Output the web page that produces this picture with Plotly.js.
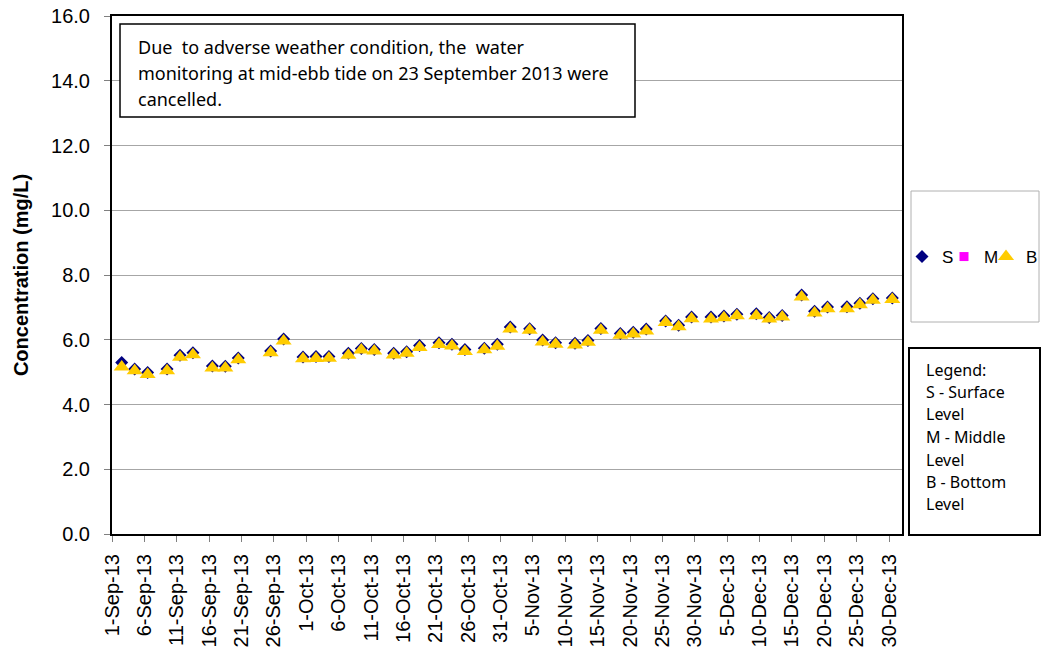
<!DOCTYPE html>
<html>
<head>
<meta charset="utf-8">
<script src="https://cdn.plot.ly/plotly-3.0.1.min.js"></script>
<style>
  html, body { margin: 0; padding: 0; background: #ffffff; }
  #chart { width: 1045px; height: 652px; }
</style>
</head>
<body>
<div id="chart"></div>
<script>
// ---- data ----
const sampleDates = [
  "2013-09-02","2013-09-04","2013-09-06","2013-09-09","2013-09-11","2013-09-13",
  "2013-09-16","2013-09-18","2013-09-20","2013-09-25","2013-09-27","2013-09-30",
  "2013-10-02","2013-10-04","2013-10-07","2013-10-09","2013-10-11","2013-10-14",
  "2013-10-16","2013-10-18","2013-10-21","2013-10-23","2013-10-25","2013-10-28",
  "2013-10-30","2013-11-01","2013-11-04","2013-11-06","2013-11-08","2013-11-11",
  "2013-11-13","2013-11-15","2013-11-18","2013-11-20","2013-11-22","2013-11-25",
  "2013-11-27","2013-11-29","2013-12-02","2013-12-04","2013-12-06","2013-12-09",
  "2013-12-11","2013-12-13","2013-12-16","2013-12-18","2013-12-20","2013-12-23",
  "2013-12-25","2013-12-27","2013-12-30"
];
const surface = [
  5.30,5.10,4.99,5.10,5.52,5.60,
  5.19,5.18,5.44,5.65,6.02,5.47,
  5.48,5.48,5.58,5.73,5.70,5.58,
  5.63,5.82,5.91,5.86,5.70,5.74,
  5.86,6.39,6.34,5.99,5.91,5.89,
  5.98,6.35,6.19,6.23,6.33,6.58,
  6.45,6.70,6.70,6.73,6.79,6.80,
  6.69,6.75,7.38,6.88,7.01,7.02,
  7.13,7.27,7.29
];
const middle = sampleDates.map(() => null); // no middle-level data shown
const bottom = [
  5.16,5.04,4.93,5.04,5.46,5.54,
  5.13,5.13,5.38,5.60,5.96,5.41,
  5.42,5.43,5.52,5.68,5.65,5.53,
  5.58,5.76,5.85,5.81,5.64,5.69,
  5.80,6.33,6.29,5.93,5.86,5.84,
  5.92,6.29,6.14,6.18,6.27,6.53,
  6.40,6.65,6.64,6.68,6.74,6.74,
  6.64,6.70,7.32,6.83,6.96,6.96,
  7.08,7.22,7.24
];
const tickDates = [
  "2013-09-01","2013-09-06","2013-09-11","2013-09-16","2013-09-21","2013-09-26",
  "2013-10-01","2013-10-06","2013-10-11","2013-10-16","2013-10-21","2013-10-26","2013-10-31",
  "2013-11-05","2013-11-10","2013-11-15","2013-11-20","2013-11-25","2013-11-30",
  "2013-12-05","2013-12-10","2013-12-15","2013-12-20","2013-12-25","2013-12-30"
];
const tickLabels = [
  "1-Sep-13","6-Sep-13","11-Sep-13","16-Sep-13","21-Sep-13","26-Sep-13",
  "1-Oct-13","6-Oct-13","11-Oct-13","16-Oct-13","21-Oct-13","26-Oct-13","31-Oct-13",
  "5-Nov-13","10-Nov-13","15-Nov-13","20-Nov-13","25-Nov-13","30-Nov-13",
  "5-Dec-13","10-Dec-13","15-Dec-13","20-Dec-13","25-Dec-13","30-Dec-13"
];
const noteLines = [
  "Due  to adverse weather condition, the  water",
  "monitoring at mid-ebb tide on 23 September 2013 were",
  "cancelled."
];
const legendNoteLines = [
  "Legend:", "S - Surface", "Level", "M - Middle", "Level", "B - Bottom", "Level"
];

// ---- layout helpers (pixel -> paper) ----
const W = 1045, H = 652;
const M = {l: 112, r: 143, t: 16, b: 118, autoexpand: false};
const PW = W - M.l - M.r, PH = H - M.t - M.b;
const px = x => (x - M.l) / PW;
const py = y => (H - M.b - y) / PH;

const DAY = 86400000;
const traces = [
  {name: "S", x: sampleDates, y: surface, type: "scatter", mode: "markers",
   xperiod: DAY, xperiodalignment: "middle", legend: "legend",
   marker: {symbol: "diamond", size: 10, color: "#000080"}},
  {name: "M", x: sampleDates, y: middle, type: "scatter", mode: "markers",
   xperiod: DAY, xperiodalignment: "middle", legend: "legend2",
   marker: {symbol: "square", size: 9, color: "#FF00FF"}},
  {name: "B", x: sampleDates, y: bottom, type: "scatter", mode: "markers",
   xperiod: DAY, xperiodalignment: "middle", legend: "legend3",
   marker: {symbol: "triangle-up", size: 14, color: "#FFCC00"}}
];

const baseFont = "Arial, Liberation Sans, sans-serif";
const noteFont = "Noto Sans, Open Sans, sans-serif";

const annotations = [];
const noteY = [46.5, 73.3, 99.5];
noteLines.forEach((t, i) => annotations.push({
  xref: "paper", yref: "paper", x: px(136), y: py(noteY[i]),
  xanchor: "left", yanchor: "middle", showarrow: false, text: t,
  font: {family: noteFont, size: 18, color: "#000"}
}));
const legY = [370, 391.7, 414.3, 437.3, 459.7, 482.3, 504.3];
legendNoteLines.forEach((t, i) => annotations.push({
  xref: "paper", yref: "paper", x: px(924), y: py(legY[i]),
  xanchor: "left", yanchor: "middle", showarrow: false, text: t,
  font: {family: noteFont, size: 16, color: "#000"}
}));

const legendStyle = startX => ({
  orientation: "h", x: px(startX), xanchor: "left", y: py(257), yanchor: "middle",
  bgcolor: "rgba(0,0,0,0)", borderwidth: 0, itemwidth: 30,
  font: {family: baseFont, size: 17, color: "#000"}
});

const layout = {
  width: W, height: H,
  margin: M,
  paper_bgcolor: "#ffffff", plot_bgcolor: "#ffffff",
  showlegend: true,
  legend: legendStyle(902),
  legend2: legendStyle(944),
  legend3: legendStyle(986),
  xaxis: {
    type: "date",
    range: ["2013-09-01", "2014-01-01"],
    tickmode: "array", tickvals: tickDates, ticktext: tickLabels,
    tickangle: -90,
    tickfont: {family: baseFont, size: 20, color: "#000"},
    ticks: "outside", ticklen: 6, tickcolor: "#808080", tickwidth: 1,
    ticklabelstandoff: 4,
    showgrid: false, zeroline: false,
    showline: true, linecolor: "#000", linewidth: 2, mirror: true
  },
  yaxis: {
    range: [0, 16], dtick: 2, tick0: 0, tickformat: ".1f",
    tickfont: {family: baseFont, size: 20, color: "#000"},
    ticks: "outside", ticklen: 6, tickcolor: "#808080", tickwidth: 1,
    ticklabelstandoff: 10,
    showgrid: true, gridcolor: "#a6a6a6", gridwidth: 1,
    zeroline: false,
    showline: true, linecolor: "#000", linewidth: 2, mirror: true,
    title: {text: "Concentration (mg/L)", standoff: 17,
            font: {family: baseFont, size: 20, color: "#000", weight: "bold"}}
  },
  shapes: [
    {type: "rect", xref: "paper", yref: "paper",
     x0: px(120), x1: px(635), y0: py(117), y1: py(24),
     line: {color: "#000", width: 1.5}, fillcolor: "#ffffff", layer: "above"},
    {type: "rect", xref: "paper", yref: "paper",
     x0: px(911), x1: px(1039), y0: py(322), y1: py(191),
     line: {color: "#b0b0b0", width: 1}, fillcolor: "rgba(0,0,0,0)"},
    {type: "rect", xref: "paper", yref: "paper",
     x0: px(909), x1: px(1040), y0: py(535), y1: py(348),
     line: {color: "#000", width: 2}, fillcolor: "rgba(0,0,0,0)"}
  ],
  annotations: annotations
};

Plotly.newPlot("chart", traces, layout, {displayModeBar: false, staticPlot: true});
</script>
</body>
</html>
